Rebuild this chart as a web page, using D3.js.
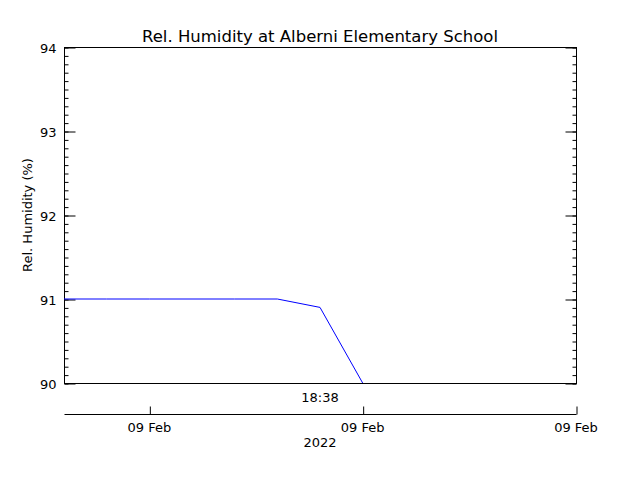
<!DOCTYPE html>
<html><head><meta charset="utf-8">
<script src="https://cdn.jsdelivr.net/npm/d3@7"></script>
<style>body{margin:0;background:#fff}svg{display:block}</style>
</head><body>
<script>
// Data (readings every 12 min on 09 Feb 2022)
const times = ["2022-02-09T17:26","2022-02-09T17:38","2022-02-09T17:50","2022-02-09T18:02","2022-02-09T18:14","2022-02-09T18:26","2022-02-09T18:38","2022-02-09T18:50"];
const humidity = [91.0, 91.0, 91.0, 91.0, 91.0, 91.0, 90.9, 90.0];
const yTicks = [90, 91, 92, 93, 94];
const xTickTimes = ["2022-02-09T17:50","2022-02-09T18:50","2022-02-09T19:50"];
const xDomain = ["2022-02-09T17:26","2022-02-09T19:50"];
const title = "Rel. Humidity at Alberni Elementary School";
const yLabel = "Rel. Humidity (%)";
const centerLabel = "18:38";
const yearLabel = "2022";

const W = 640, H = 480;
const L = 64, R = 576, T = 47, B = 383;
const parse = d3.timeParse("%Y-%m-%dT%H:%M");
const font = "DejaVu Sans, sans-serif";

const svg = d3.select("body").append("svg").attr("width", W).attr("height", H);
svg.append("rect").attr("width", W).attr("height", H).attr("fill", "#fff");

const x = d3.scaleTime().domain(xDomain.map(parse)).range([L, R]);
const y = d3.scaleLinear().domain([90, 94]).range([B, T]);

// frame
svg.append("rect").attr("x", L + 0.5).attr("y", T + 0.5).attr("width", R - L).attr("height", B - T)
  .attr("fill", "none").attr("stroke", "#000").attr("stroke-width", 1);

// left axis
const minor = d3.range(900, 941).map(v => v / 10);
const gl = svg.append("g").attr("transform", `translate(${L + 0.5},0.5)`);
gl.call(d3.axisLeft(y).tickValues(minor).tickSize(-4).tickFormat(""));
const gl2 = svg.append("g").attr("transform", `translate(${L + 0.5},0.5)`);
gl2.call(d3.axisLeft(y).tickValues(yTicks).tickSize(-11).tickPadding(8).tickFormat(d3.format("d")));
// right axis
const gr = svg.append("g").attr("transform", `translate(${R + 0.5},0.5)`);
gr.call(d3.axisRight(y).tickValues(minor).tickSize(-4).tickFormat(""));
const gr2 = svg.append("g").attr("transform", `translate(${R + 0.5},0.5)`);
gr2.call(d3.axisRight(y).tickValues(yTicks).tickSize(-11).tickFormat(""));
[gl, gl2, gr, gr2].forEach(g => {
  g.select(".domain").remove();
  g.selectAll("line").attr("stroke", "#000");
  g.selectAll("text").attr("font-family", font).attr("font-size", 13).attr("fill", "#000");
});
gl2.selectAll("text").attr("dy", "0.35em");

// bottom time axis
const AX = 414;
const gb = svg.append("g").attr("transform", `translate(0.5,${AX + 0.5})`);
gb.call(d3.axisTop(x).tickValues(xTickTimes.map(parse)).tickSize(8).tickFormat(""));
gb.select(".domain").attr("d", `M${L},0H${R}`).attr("stroke", "#000");
gb.selectAll("line").attr("stroke", "#000");
const fmt = d3.timeFormat("%d %b");
svg.append("g").selectAll("text").data(xTickTimes.map(parse)).join("text")
  .attr("x", d => x(d)).attr("y", 432).attr("text-anchor", "middle")
  .attr("font-family", font).attr("font-size", 13).text(d => fmt(d));

svg.append("text").attr("x", 320).attr("y", 402).attr("text-anchor", "middle")
  .attr("font-family", font).attr("font-size", 13).text(centerLabel);
svg.append("text").attr("x", 320).attr("y", 447).attr("text-anchor", "middle")
  .attr("font-family", font).attr("font-size", 13).text(yearLabel);

// title
svg.append("text").attr("x", 320).attr("y", 42).attr("text-anchor", "middle")
  .attr("font-family", font).attr("font-size", 15).attr("textLength", 356).attr("lengthAdjust", "spacingAndGlyphs")
  .text(title);
// y label
svg.append("text").attr("transform", `translate(32,${(T + B) / 2}) rotate(-90)`).attr("text-anchor", "middle")
  .attr("font-family", font).attr("font-size", 13).text(yLabel);

// line
const data = times.map((t, i) => ({t: parse(t), v: humidity[i]}));
svg.append("path").datum(data)
  .attr("d", d3.line().x(d => x(d.t)).y(d => y(d.v)))
  .attr("fill", "none").attr("stroke", "#0000ff").attr("stroke-width", 1);
</script>
</body></html>
